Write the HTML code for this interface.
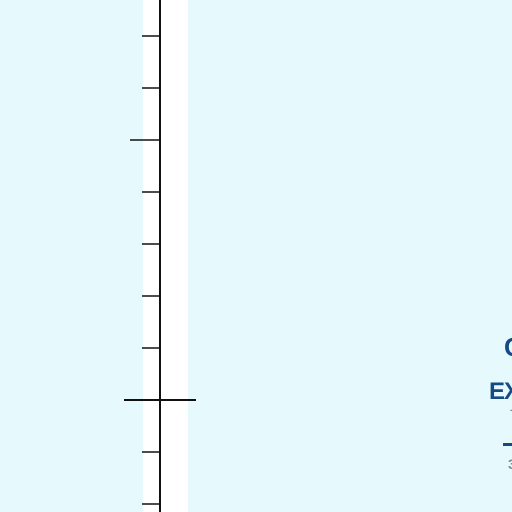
<!DOCTYPE html>
<html><head><meta charset="utf-8">
<style>
html,body{margin:0;padding:0;width:512px;height:512px;overflow:hidden;background:#e6fafd;}
#strip{position:absolute;left:143px;top:0;width:45px;height:512px;background:#fff;}
.t{position:absolute;font-family:"Liberation Sans",sans-serif;font-weight:bold;color:#174a82;white-space:nowrap;}
</style></head>
<body>
<div id="strip"></div>
<svg id="ruler" width="512" height="512" style="position:absolute;left:0;top:0"></svg>
<div class="t" style="left:504px;top:332px;font-size:26px;">C</div>
<div class="t" style="left:489px;top:378px;font-size:24px;letter-spacing:-1px;">EX</div>
<div class="t" style="left:510px;top:405px;font-size:10px;color:#7a8a9a;">-</div>
<div style="position:absolute;left:503px;top:443px;width:9px;height:3px;background:#174a82;"></div>
<div class="t" style="left:508px;top:456px;font-size:14px;color:#7a8a9a;">3</div>
<script>
const tickValues=[0,1,2,3,4,5,6,7,8,9];
const majorTicks=[2];
const originTicks=[7];
const svg=document.getElementById('ruler');
const NS='http://www.w3.org/2000/svg';
function y(v){return 36+v*52;}
const axisX=160;
const axis=document.createElementNS(NS,'line');
axis.setAttribute('x1',axisX);axis.setAttribute('x2',axisX);axis.setAttribute('y1',0);axis.setAttribute('y2',512);
axis.setAttribute('stroke','#111');axis.setAttribute('stroke-width','2');


svg.appendChild(axis);
tickValues.forEach(v=>{
  const l=document.createElementNS(NS,'line');
  let x1=142,x2=160;
  if(majorTicks.includes(v)){x1=130;}
  if(originTicks.includes(v)){x1=124;x2=196;}
  l.setAttribute('x1',x1);l.setAttribute('x2',x2);l.setAttribute('y1',y(v));l.setAttribute('y2',y(v));
  l.setAttribute('stroke','#111');l.setAttribute('stroke-width',originTicks.includes(v)?2:1.5);
  
  
  svg.appendChild(l);
});
</script>
</body></html>
